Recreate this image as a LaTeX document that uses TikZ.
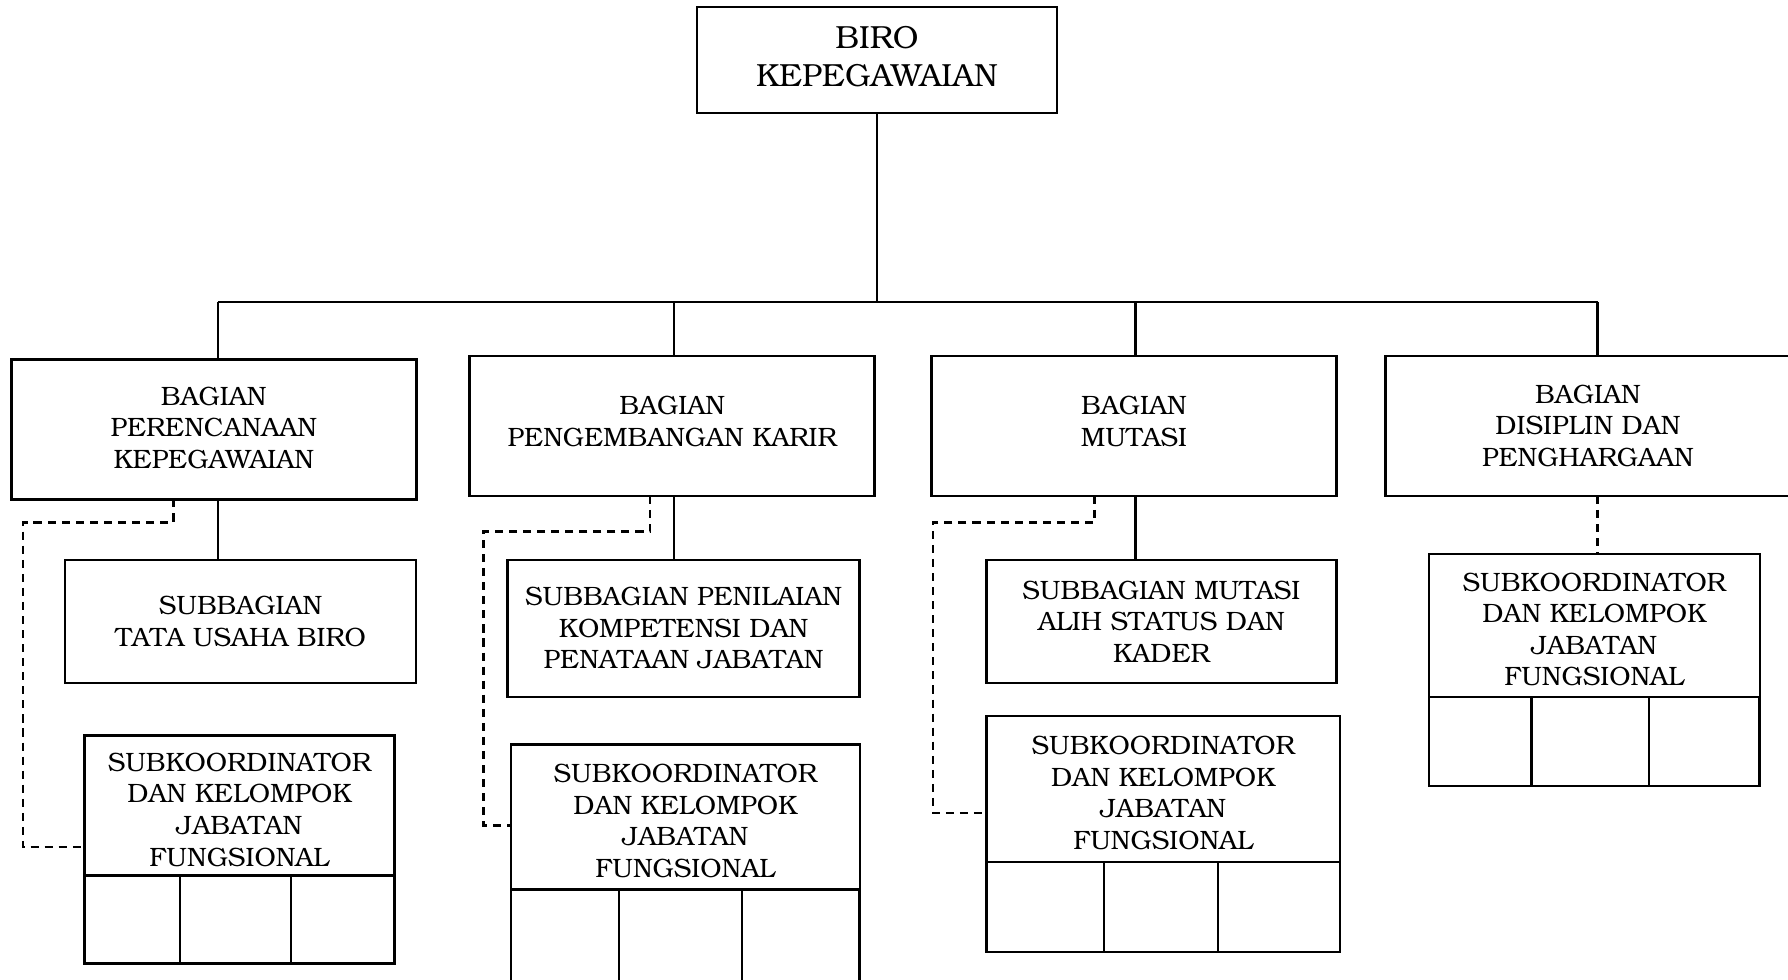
\documentclass[tikz,border=0pt]{standalone}
\usepackage[T1]{fontenc}
\usepackage{bookman}
\usepackage{tikz}

\newcommand{\koortext}{\rule{0pt}{7.5pt}SUBKOORDINATOR\\DAN KELOMPOK\\JABATAN\\FUNGSIONAL}

\begin{document}
\begin{tikzpicture}[
    box/.style={draw, line width=0.7pt, inner sep=0pt, outer sep=0pt, align=center, font=\fontsize{7.55}{9}\selectfont},
    cell/.style={draw, line width=0.7pt, inner sep=0pt, outer sep=0pt, anchor=north west},
    textup/.style={execute at end node={\rule[-#1]{0pt}{0pt}}},
    link/.style={line width=0.7pt},
    dashline/.style={line width=0.7pt, dash pattern=on 2.3pt off 1.7pt}
  ]
  \useasboundingbox (0,0) rectangle (17.88,-9.79);
  \clip (0,0) rectangle (17.88,-9.79);

  % Biro
  \node[box, textup=2pt, minimum width=3.60cm, minimum height=1.06cm, font=\fontsize{9.1}{10.6}\selectfont] (biro) at (8.769,-0.599) {BIRO\\KEPEGAWAIAN};

  % Bagian
  \node[box, textup=1.1pt, minimum width=4.05cm, minimum height=1.40cm] (b1) at (2.138,-4.294) {BAGIAN\\PERENCANAAN\\KEPEGAWAIAN};
  \node[box, textup=2.6pt, minimum width=4.05cm, minimum height=1.40cm] (b2) at (6.722,-4.259) {BAGIAN\\PENGEMBANGAN KARIR};
  \node[box, textup=2.6pt, minimum width=4.05cm, minimum height=1.40cm] (b3) at (11.340,-4.259) {BAGIAN\\MUTASI};
  \node[box, minimum width=4.05cm, minimum height=1.40cm] (b4) at (15.879,-4.259) {BAGIAN\\DISIPLIN DAN\\PENGHARGAAN};

  % Subbagian
  \node[box, minimum width=3.51cm, minimum height=1.23cm] (s1) at (2.406,-6.215) {SUBBAGIAN\\TATA USAHA BIRO};
  \node[box, minimum width=3.52cm, minimum height=1.37cm] (s2) at (6.836,-6.283) {SUBBAGIAN PENILAIAN\\KOMPETENSI DAN\\PENATAAN JABATAN};
  \node[box, minimum width=3.50cm, minimum height=1.23cm] (s3) at (11.614,-6.215) {SUBBAGIAN MUTASI\\ALIH STATUS DAN\\KADER};

  % Subkoordinator
  \node[box, minimum width=3.10cm, minimum height=1.40cm] (k1) at (2.394,-8.057) {\koortext};
  \node[box, minimum width=3.49cm, minimum height=1.45cm] (k2) at (6.853,-8.170) {\koortext};
  \node[box, minimum width=3.535cm, minimum height=1.46cm] (k3) at (11.632,-7.891) {\koortext};
  \node[box, minimum width=3.31cm, minimum height=1.425cm] (k4) at (15.942,-6.255) {\koortext};

  \node[cell, minimum width=0.958cm, minimum height=0.88cm] (k1a) at (k1.south west) {};
  \node[cell, minimum width=1.106cm, minimum height=0.88cm] (k1b) at (k1a.north east) {};
  \node[cell, minimum width=1.037cm, minimum height=0.88cm] (k1c) at (k1b.north east) {};

  \node[cell, minimum width=1.083cm, minimum height=1.00cm] (k2a) at (k2.south west) {};
  \node[cell, minimum width=1.231cm, minimum height=1.00cm] (k2b) at (k2a.north east) {};
  \node[cell, minimum width=1.175cm, minimum height=1.00cm] (k2c) at (k2b.north east) {};

  \node[cell, minimum width=1.174cm, minimum height=0.90cm] (k3a) at (k3.south west) {};
  \node[cell, minimum width=1.140cm, minimum height=0.90cm] (k3b) at (k3a.north east) {};
  \node[cell, minimum width=1.221cm, minimum height=0.90cm] (k3c) at (k3b.north east) {};

  \node[cell, minimum width=1.026cm, minimum height=0.89cm] (k4a) at (k4.south west) {};
  \node[cell, minimum width=1.175cm, minimum height=0.89cm] (k4b) at (k4a.north east) {};
  \node[cell, minimum width=1.106cm, minimum height=0.89cm] (k4c) at (k4b.north east) {};

  % Lines
  \coordinate (j1) at (2.178,-3.022);
  \coordinate (j2) at (6.739,-3.022);
  \coordinate (j3) at (11.357,-3.022);
  \coordinate (j4) at (15.976,-3.022);

  \draw[link] (biro.south) -- (biro.south |- j1);
  \draw[link] (j1) -- (j4);
  \draw[link] (j1) -- (j1 |- b1.north);
  \draw[link] (j2) -- (j2 |- b2.north);
  \draw[link] (j3) -- (j3 |- b3.north);
  \draw[link] (j4) -- (j4 |- b4.north);

  \draw[link] (j1 |- b1.south) -- (j1 |- s1.north);
  \draw[link] (j2 |- b2.south) -- (j2 |- s2.north);
  \draw[link] (j3 |- b3.south) -- (j3 |- s3.north);

  \draw[dashline] ([xshift=-4.05mm]b1.south) |- (0.228,-5.223) |- ([yshift=-4.15mm]k1.west);
  \draw[dashline] ([xshift=-2.2mm]b2.south) |- (4.835,-5.314) |- ([yshift=-0.86mm]k2.west);
  \draw[dashline] ([xshift=-3.93mm]b3.south) |- (9.328,-5.223) |- ([yshift=-2.39mm]k3.west);
  \draw[dashline] (j4 |- b4.south) -- (j4 |- k4.north);

\end{tikzpicture}
\end{document}
